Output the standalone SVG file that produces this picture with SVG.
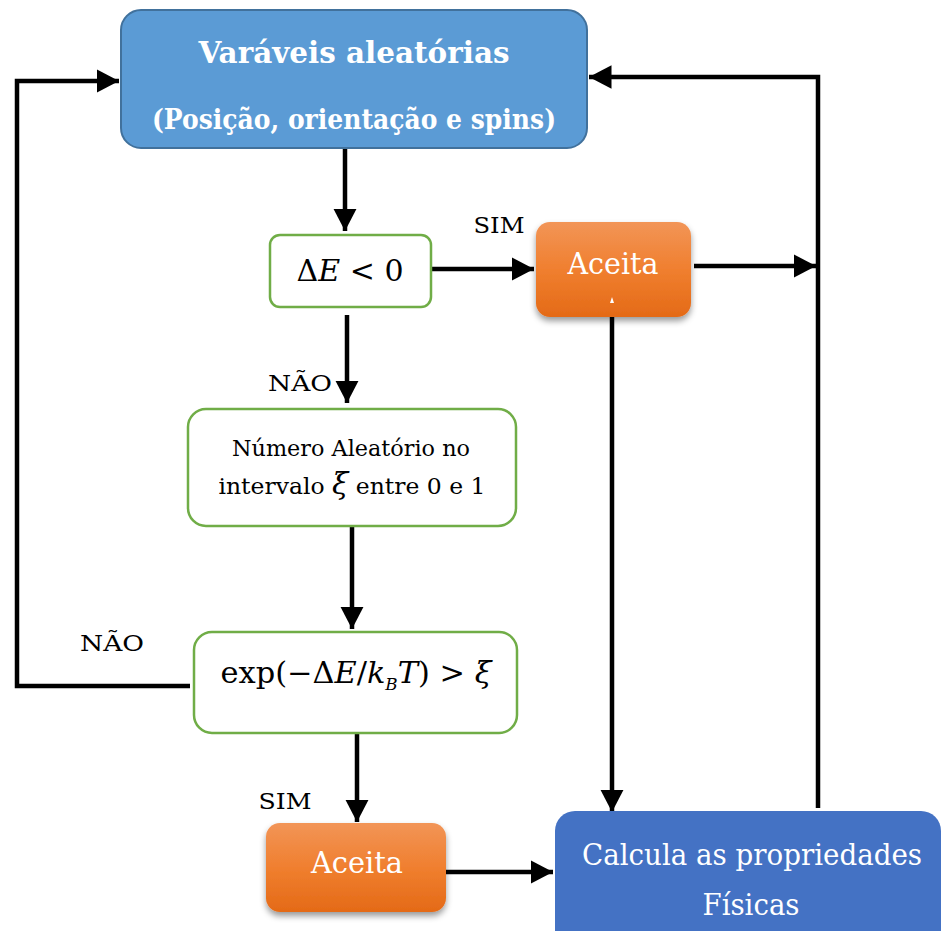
<svg xmlns="http://www.w3.org/2000/svg" width="942" height="931" viewBox="0 0 942 931">
<style>
text{font-family:'DejaVu Serif',serif;}
.w{fill:#fff;}
.k{fill:#000;}
.g{fill:#fff;stroke:#70ad47;stroke-width:2.5;}
.c{stroke:#000;stroke-width:4.5;fill:none;}
</style>
<defs>
<marker id="ah" markerWidth="6" markerHeight="6" refX="5" refY="3" orient="auto" markerUnits="strokeWidth">
<path d="M0,0.4 L5,3 L0,5.6 Z" fill="#000"/>
</marker>
<linearGradient id="og" x1="0" y1="0" x2="0" y2="1">
<stop offset="0" stop-color="#f29557"/>
<stop offset="0.5" stop-color="#f07f2f"/>
<stop offset="1" stop-color="#e46a17"/>
</linearGradient>
<filter id="sh" x="-20%" y="-20%" width="140%" height="150%">
<feDropShadow dx="0" dy="4" stdDeviation="3" flood-color="#000" flood-opacity="0.4"/>
</filter>
</defs>
<rect width="942" height="931" fill="#fff"/>
<g id="connectors">
<line class="c" x1="345" y1="148" x2="345" y2="231" marker-end="url(#ah)"/>
<line class="c" x1="431" y1="269" x2="534" y2="269" marker-end="url(#ah)"/>
<line class="c" x1="694" y1="266" x2="816" y2="266" marker-end="url(#ah)"/>
<line class="c" x1="612" y1="317" x2="612" y2="812" marker-end="url(#ah)"/>
<line class="c" x1="347" y1="315" x2="347" y2="403" marker-end="url(#ah)"/>
<line class="c" x1="352" y1="526" x2="352" y2="629" marker-end="url(#ah)"/>
<line class="c" x1="357" y1="733" x2="357" y2="822" marker-end="url(#ah)"/>
<line class="c" x1="446" y1="872" x2="553" y2="872" marker-end="url(#ah)"/>
<polyline class="c" points="190,686 17,686 17,81 119,81" marker-end="url(#ah)"/>
<polyline class="c" points="818,808 818,77 589,77" marker-end="url(#ah)"/>
<text class="k" x="499" y="233" font-size="23" text-anchor="middle" textLength="51" lengthAdjust="spacingAndGlyphs">SIM</text>
<text class="k" x="300" y="391" font-size="23" text-anchor="middle" textLength="64" lengthAdjust="spacingAndGlyphs">NÃO</text>
<text class="k" x="112" y="651" font-size="23" text-anchor="middle" textLength="64" lengthAdjust="spacingAndGlyphs">NÃO</text>
<text class="k" x="285" y="809" font-size="23" text-anchor="middle" textLength="53" lengthAdjust="spacingAndGlyphs">SIM</text>
</g>
<g id="n1">
<rect x="121" y="10" width="466" height="138" rx="20" fill="#5b9bd5" stroke="#41719c" stroke-width="2"/>
<text class="w" x="354" y="63" font-size="30" font-weight="bold" text-anchor="middle" textLength="311" lengthAdjust="spacingAndGlyphs">Varáveis aleatórias</text>
<text class="w" x="354" y="129" font-size="27" font-weight="bold" text-anchor="middle" textLength="404" lengthAdjust="spacingAndGlyphs">(Posição, orientação e spins)</text>
</g>
<g id="n2">
<rect class="g" x="270" y="235" width="161" height="72" rx="10"/>
<text class="k" x="350" y="281" font-size="30" text-anchor="middle" textLength="107" lengthAdjust="spacingAndGlyphs">Δ<tspan font-style="italic">E</tspan> &lt; 0</text>
</g>
<g id="n3">
<rect x="536" y="222" width="155" height="95" rx="14" fill="url(#og)" filter="url(#sh)"/>
<text class="w" x="613" y="274" font-size="30" text-anchor="middle" textLength="91" lengthAdjust="spacingAndGlyphs">Aceita</text>
<path d="M610,303 L612,297 L614,303 Z" fill="#fff"/>
</g>
<g id="n4">
<rect class="g" x="188" y="409" width="328" height="117" rx="18"/>
<text class="k" x="351" y="456" font-size="23" text-anchor="middle" textLength="238" lengthAdjust="spacingAndGlyphs">Número Aleatório no</text>
<text class="k" x="352" y="494" font-size="23" text-anchor="middle" textLength="267" lengthAdjust="spacingAndGlyphs">intervalo <tspan font-style="italic" font-size="29">ξ</tspan>  entre 0 e 1</text>
</g>
<g id="n5">
<rect class="g" x="194" y="632" width="323" height="101" rx="18"/>
<text class="k" x="356" y="683" font-size="29" text-anchor="middle" textLength="271" lengthAdjust="spacingAndGlyphs">exp(−Δ<tspan font-style="italic">E</tspan>/<tspan font-style="italic">k</tspan><tspan font-style="italic" font-size="16" dy="7">B</tspan><tspan font-style="italic" dy="-7">T</tspan>) &gt; <tspan font-style="italic">ξ</tspan></text>
</g>
<g id="n6">
<rect x="266" y="823" width="180" height="89" rx="14" fill="url(#og)" filter="url(#sh)"/>
<text class="w" x="357" y="873" font-size="30" text-anchor="middle" textLength="92" lengthAdjust="spacingAndGlyphs">Aceita</text>
</g>
<g id="n7">
<rect x="555" y="811" width="386" height="140" rx="20" fill="#4472c4"/>
<text class="w" x="752" y="865" font-size="30" text-anchor="middle" textLength="340" lengthAdjust="spacingAndGlyphs">Calcula as propriedades</text>
<text class="w" x="751" y="915" font-size="30" text-anchor="middle" textLength="97" lengthAdjust="spacingAndGlyphs">Físicas</text>
</g>
</svg>
